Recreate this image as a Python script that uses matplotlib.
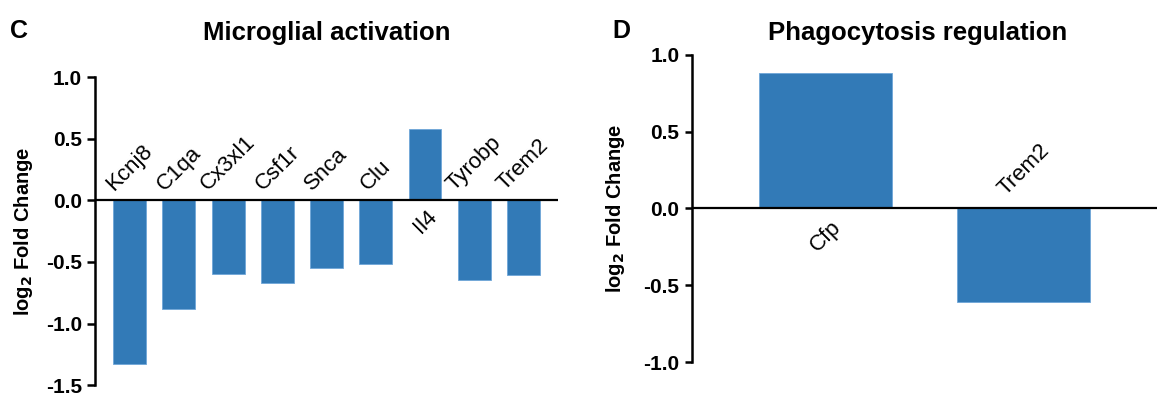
import numpy as np
import matplotlib
matplotlib.use('Agg')
from matplotlib import pyplot as plt

# panel C data
genes_c = ['Kcnj8', 'C1qa', 'Cx3xl1', 'Csf1r', 'Snca', 'Clu', 'Il4', 'Tyrobp', 'Trem2']
fc_c = [-1.33, -0.88, -0.60, -0.67, -0.55, -0.515, 0.58, -0.65, -0.61]

# panel D data
genes_d = ['Cfp', 'Trem2']
fc_d = [0.88, -0.61]

plt.rcParams['font.family'] = ['Liberation Sans', 'DejaVu Sans']

bar_color = '#327ab7'
edge_color = '#6fa6d8'


def draw_panel(ax, genes, values, ylim, yticks, lab_off, xpad, tick_len, tick_pad):
    x = np.arange(len(genes))
    ax.bar(x, values, width=0.67, color=bar_color, edgecolor=edge_color, linewidth=0.6, zorder=2)
    ax.axhline(0, color='black', linewidth=1.6, zorder=3)
    # labels sit on the opposite side of the zero line from the bar
    for xi, g, v in zip(x, genes, values):
        if v < 0:
            ax.text(xi, lab_off, g, rotation=45, ha='center', va='bottom', fontsize=16, zorder=4)
        else:
            ax.text(xi, -lab_off, g, rotation=45, ha='center', va='top', fontsize=16, zorder=4)
    ax.set_xlim(-xpad, len(genes) - 1 + xpad)
    ax.set_ylim(*ylim)
    ax.set_yticks(yticks)
    ax.set_yticklabels(['{:.1f}'.format(t) for t in yticks], fontsize=15, fontweight='bold')
    ax.set_xticks([])
    for s in ['top', 'right', 'bottom']:
        ax.spines[s].set_visible(False)
    ax.spines['left'].set_linewidth(1.8)
    ax.tick_params(axis='y', length=tick_len, width=1.8, pad=tick_pad)
    ax.set_ylabel('log$_\\mathbf{2}$ Fold Change', fontsize=14.5, fontweight='bold')


fig = plt.figure(figsize=(11.58, 3.95), dpi=100)
ax1 = fig.add_axes([0.082, 0.025, 0.400, 0.780])
ax2 = fig.add_axes([0.598, 0.0835, 0.401, 0.7775])

draw_panel(ax1, genes_c, fc_c, (-1.5, 1.0), [-1.5, -1.0, -0.5, 0.0, 0.5, 1.0],
           0.045, 0.705, 6, 3.5)
draw_panel(ax2, genes_d, fc_d, (-1.0, 1.0), [-1.0, -0.5, 0.0, 0.5, 1.0],
           0.055, 0.67, 5, 4.5)

fig.text(0.009, 0.905, 'C', fontsize=18, fontweight='bold')
fig.text(0.529, 0.905, 'D', fontsize=18, fontweight='bold')

fig.text(0.282, 0.898, 'Microglial activation', fontsize=18.5, fontweight='bold', ha='center')
fig.text(0.792, 0.898, 'Phagocytosis regulation', fontsize=18.5, fontweight='bold', ha='center')

ax1.yaxis.set_label_coords(-0.13, 0.5)
ax2.yaxis.set_label_coords(-0.14, 0.5)

fig.savefig('out.png', dpi=100)
